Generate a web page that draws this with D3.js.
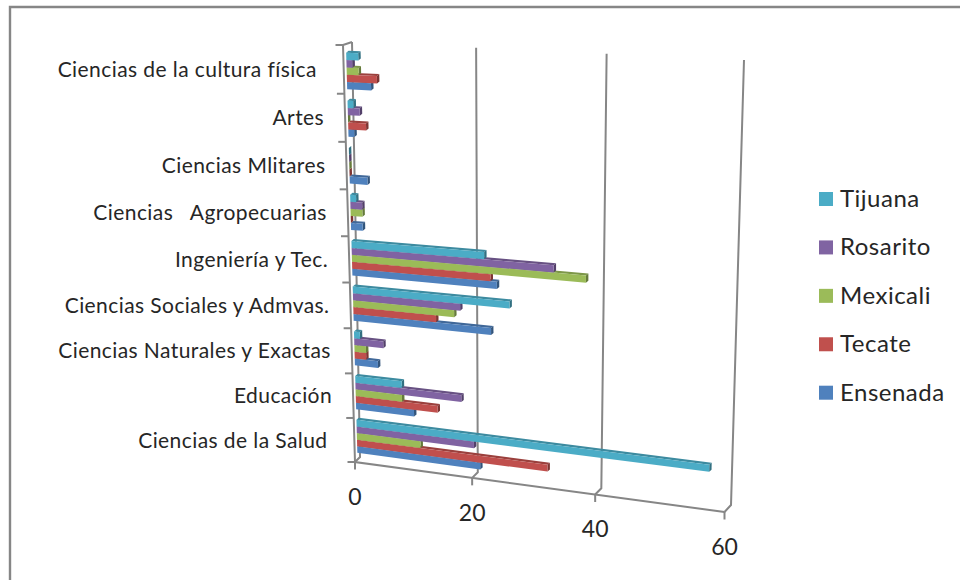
<!DOCTYPE html>
<html><head><meta charset="utf-8">
<script src="https://cdn.jsdelivr.net/npm/d3@7"></script>
<style>
html,body{margin:0;padding:0;background:#fff}
svg{display:block}
text{font-family:Lato,"Open Sans",sans-serif;fill:#262626;white-space:pre}
</style></head><body>
<svg id="c" width="960" height="580"></svg>
<script>
// ---- data ----
const categories = ["Ciencias de la Salud ","Educación","Ciencias Naturales y Exactas","Ciencias Sociales y Admvas.","Ingeniería y Tec.","Ciencias   Agropecuarias","Ciencias Mlitares","Artes","Ciencias de la cultura física "];
const seriesNames = ["Ensenada","Tecate","Mexicali","Rosarito","Tijuana"];
const ensenada = [21,10,4,23,24,2,3,1,4];
const tecate   = [32,14,2,14,23,0,0,3,5];
const mexicali = [11,8,2,17,38,2,0,0,2];
const rosarito = [20,18,5,18,33,2,0,2,1];
const tijuana  = [57,8,1,26,22,1,0,1,2];
const seriesValues = [ensenada,tecate,mexicali,rosarito,tijuana];
const seriesColors = ["#4F81BD","#C0504D","#9BBB59","#8064A2","#4BACC6"];
const valueTicks = [0,20,40,60];

// ---- perspective layout ----
function quad(p0,p1,p2,p3){
  const [x0,y0]=p0,[x1,y1]=p1,[x2,y2]=p2,[x3,y3]=p3;
  const dx1=x1-x2,dx2=x3-x2,sx=x0-x1+x2-x3,dy1=y1-y2,dy2=y3-y2,sy=y0-y1+y2-y3;
  const den=dx1*dy2-dx2*dy1;
  const g=(sx*dy2-dx2*sy)/den,h=(dx1*sy-sx*dy1)/den;
  const a=x1-x0+g*x1,b=x3-x0+h*x3,d=y1-y0+g*y1,e=y3-y0+h*y3;
  return (s,t)=>{const w=g*s+h*t+1;return [(a*s+b*t+x0)/w,(d*s+e*t+y0)/w];};
}
const frontPlane = quad([355,462],[724.5,512],[735,64],[343,45]);
const backPlane  = quad([360,457],[731,505],[744,60],[352,42]);
const barPlane   = quad([357.5,458],[728.5,508.5],[739.5,62],[346,47]);

const vs = d3.scaleLinear().domain([0,60]).range([0,1]);
const catBand = d3.scaleBand().domain(categories).range([0,1]).paddingInner(0.24).paddingOuter(0.12);
const serBand = d3.scaleBand().domain(seriesNames).range([0,catBand.bandwidth()]);

const svg = d3.select("#c");
const line = d3.line();
const gray = "#868686";
svg.append("defs").append("filter").attr("id","soft").append("feGaussianBlur").attr("stdDeviation",0.45);

// outer frame
svg.append("path").attr("d",line([[10,580],[10,7],[960,7]])).attr("fill","none").attr("stroke",gray).attr("stroke-width",2.4);

const gAxes = svg.append("g").attr("fill","none").attr("stroke",gray).attr("stroke-width",2).attr("filter","url(#soft)");
// walls
valueTicks.forEach(v=>{
  const s=vs(v);
  gAxes.append("path").attr("d",line([backPlane(s,1),backPlane(s,0),frontPlane(s,0)]));
  const p=frontPlane(s,0);
  gAxes.append("path").attr("d",line([p,[p[0],p[1]+7.5]]));
});
gAxes.append("path").attr("d",line([frontPlane(0,1),frontPlane(0,0),frontPlane(1,0)]));
// category ticks
const step = catBand.step();
d3.range(categories.length+1).forEach(i=>{
  const t=i*step, p=frontPlane(0,t);
  gAxes.append("path").attr("d",line([[p[0]-7.5,p[1]],p]));
});
gAxes.append("path").attr("d",line([frontPlane(0,1),backPlane(0,1)]));

// bars, bottom first so upper bars sit on the top faces of lower ones
const depth=[2.4,-2];
const shift=p=>[p[0]+depth[0],p[1]+depth[1]];
const gBars = svg.append("g").attr("filter","url(#soft)");
categories.forEach((c,ci)=>{
  seriesNames.forEach((n,si)=>{
    const v=seriesValues[si][ci], col=seriesColors[si];
    const t0=catBand(c)+serBand(n), t1=t0+serBand.bandwidth();
    const A=barPlane(0,t0),B=barPlane(vs(v),t0),C=barPlane(vs(v),t1),D=barPlane(0,t1);
    const dark=d3.color(col).darker(0.6).formatHex();
    const darker=d3.color(col).darker(1.2).formatHex();
    gBars.append("path").attr("d",line([D,C,shift(C),shift(D)])+"Z").attr("fill",dark);
    gBars.append("path").attr("d",line([B,C,shift(C),shift(B)])+"Z").attr("fill",darker);
    gBars.append("path").attr("d",line([A,B,C,D])+"Z").attr("fill",col);
  });
});

// category labels
categories.forEach(c=>{
  const p=frontPlane(0,catBand(c)+catBand.bandwidth()/2);
  svg.append("text").attr("x",p[0]-21).attr("y",p[1]+7.5).attr("text-anchor","end")
    .attr("font-size",21).attr("letter-spacing",0.42).text(c);
});
// value labels
valueTicks.forEach(v=>{
  const p=frontPlane(vs(v),0);
  svg.append("text").attr("x",p[0]).attr("y",p[1]+43).attr("text-anchor","middle")
    .attr("font-size",23).text(v);
});
// legend
const legendY=d3.scalePoint().domain(seriesNames.slice().reverse()).range([199,392.7]);
seriesNames.forEach((n,i)=>{
  const y=legendY(n);
  svg.append("rect").attr("x",819).attr("y",y-7).attr("width",14).attr("height",14).attr("fill",seriesColors[i]);
  svg.append("text").attr("x",840).attr("y",y+8).attr("font-size",24).attr("letter-spacing",0.5).text(n);
});
</script>
</body></html>
